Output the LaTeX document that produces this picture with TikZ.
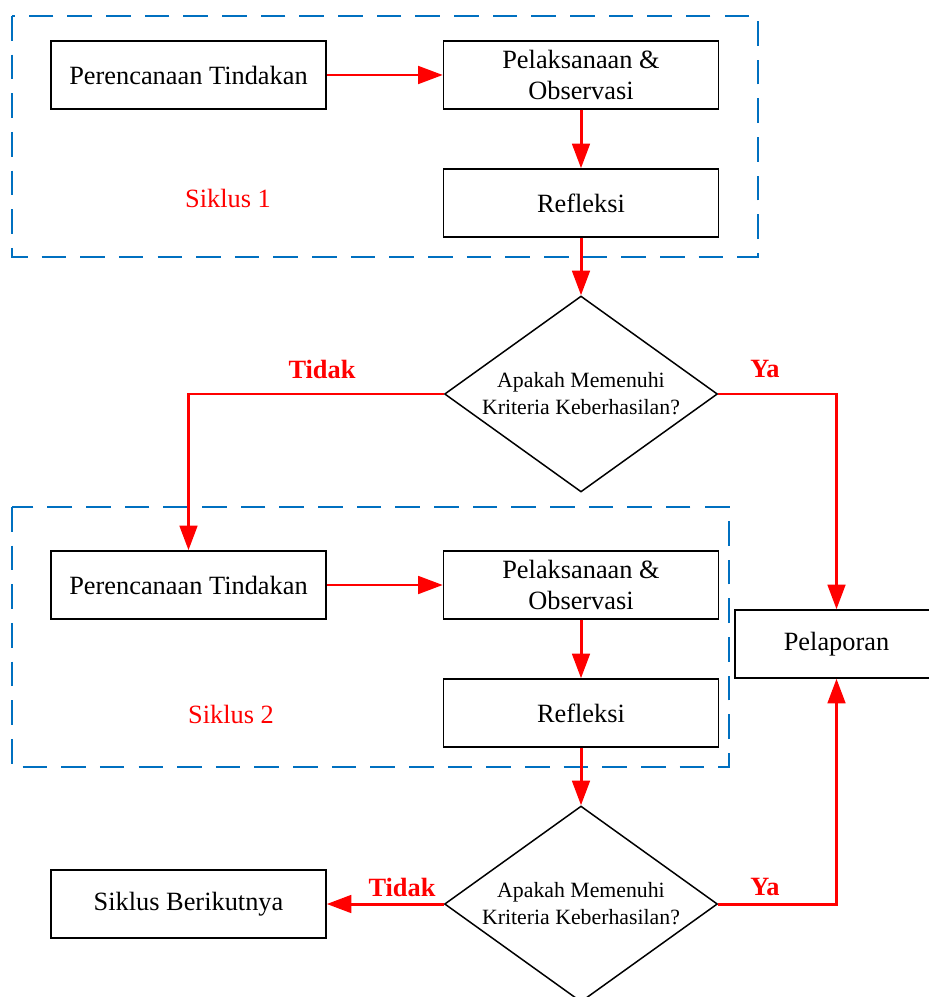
\documentclass[tikz,border=0pt]{standalone}
\usepackage{fontspec}
\setmainfont{Liberation Serif}
\usetikzlibrary{shapes.geometric,arrows.meta}
\definecolor{siklusblue}{RGB}{0,112,192}

\tikzset{
  box/.style={draw, line width=0.85pt, minimum width=5.5cm, minimum height=1.36cm,
    align=center, font=\fontsize{15}{17.5}\selectfont},
  tanya/.style={draw, diamond, aspect=1.39, line width=0.85pt, inner sep=0pt, minimum width=5.46cm,
    minimum height=3.92cm, align=center, font=\fontsize{12.4}{15.3}\selectfont},
  panah/.style={draw=red, line width=1.7pt, -{Triangle[length=14pt,width=10pt]}},
  siklus/.style={draw=siklusblue, line width=0.85pt, dash pattern=on 14pt off 8pt},
  ket/.style={text=red, font=\fontsize{15}{17}\selectfont\bfseries},
  judul/.style={text=red, font=\fontsize{15}{17}\selectfont},
}

\begin{document}
\begin{tikzpicture}[x=0.02cm,y=-0.02cm]
  \useasboundingbox (0,0) rectangle (929,997);
  % siklus 1
  \draw[siklus] (12,16) rectangle (758,257);
  \node[box] (a1) at (188.5,75) {Perencanaan Tindakan};
  \node[box] (b1) at (581,75) {Pelaksanaan \&\\Observasi};
  \node[box] (c1) at (581,203) {Refleksi};
  \node[judul] (s1) at (228,198) {Siklus 1};
  \node[tanya] (d1) at (581,394) {Apakah Memenuhi\\Kriteria Keberhasilan?};
  % siklus 2
  \draw[siklus] (12,507) rectangle (729,767);
  \node[box] (a2) at (188.5,585) {Perencanaan Tindakan};
  \node[box] (b2) at (581,585) {Pelaksanaan \&\\Observasi};
  \node[box] (c2) at (581,713) {Refleksi};
  \node[judul] (s2) at (231,714) {Siklus 2};
  \node[tanya] (d2) at (581,904) {Apakah Memenuhi\\Kriteria Keberhasilan?};
  \node[box, minimum width=4.06cm] (lap) at (836.5,644) {Pelaporan};
  \node[box] (next) at (188.5,904) {Siklus Berikutnya};
  % labels
  \node[ket] (t1) at (322,369) {Tidak};
  \node[ket] (y1) at (765,369) {Ya};
  \node[ket] (t2) at (402,887) {Tidak};
  \node[ket] (y2) at (765,887) {Ya};
  % arrows
  \draw[panah] (a1)--(b1);
  \draw[panah] (b1)--(c1);
  \draw[panah] (c1)--(d1);
  \draw[panah] (d1.west) -| (a2.north);
  \draw[panah] (d1.east) -| (lap.north);
  \draw[panah] (a2)--(b2);
  \draw[panah] (b2)--(c2);
  \draw[panah] (c2)--(d2);
  \draw[panah] (d2.west)--(next.east);
  \draw[panah] (d2.east) -| (lap.south);
\end{tikzpicture}
\end{document}
